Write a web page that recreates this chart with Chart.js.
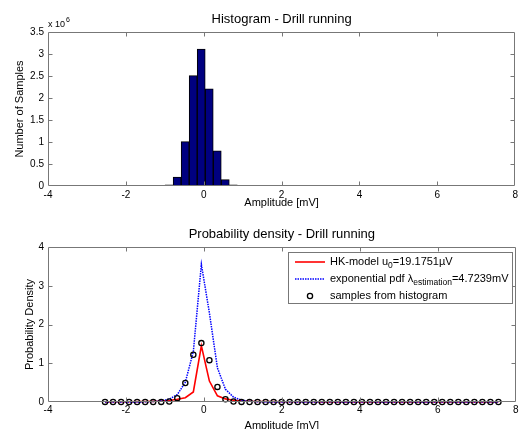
<!DOCTYPE html>
<html>
<head>
<meta charset="utf-8">
<script src="https://cdn.jsdelivr.net/npm/chart.js@4.4.1/dist/chart.umd.min.js"></script>
<style>
  html, body { margin: 0; padding: 0; background: #fff; overflow: hidden; }
  #wrap { position: relative; width: 521px; height: 429px; overflow: hidden; }
  canvas { position: absolute; left: 0; }
  #hist { top: 0; }
  #pdf { top: 215px; }
</style>
</head>
<body>
<div id="wrap">
  <canvas id="hist" width="521" height="215"></canvas>
  <canvas id="pdf" width="521" height="224"></canvas>
</div>
<script>
// bin centres of the 50-bin histogram [mV]
const binCenters = [
  -2.537, -2.331, -2.125, -1.919, -1.713, -1.507, -1.301, -1.095, -0.889, -0.683,
  -0.477, -0.271, -0.065, 0.141, 0.347, 0.553, 0.759, 0.965, 1.171, 1.377,
  1.583, 1.789, 1.995, 2.201, 2.407, 2.613, 2.819, 3.025, 3.231, 3.437,
  3.643, 3.849, 4.055, 4.261, 4.467, 4.673, 4.879, 5.085, 5.291, 5.497,
  5.703, 5.909, 6.115, 6.321, 6.527, 6.733, 6.939, 7.145, 7.351, 7.557
];

// number of samples per bin
const histCounts = [
  9000, 0, 0, 0, 0, 0, 0, 6000, 25000, 205000,
  1010000, 2510000, 3110000, 2210000, 800000, 145000, 25000, 6000, 0, 0,
  0, 0, 0, 0, 0, 0, 0, 0, 0, 0,
  0, 0, 0, 0, 0, 0, 0, 0, 0, 0,
  0, 0, 0, 0, 0, 0, 0, 0, 0, 0
];

// probability density
const sampleDensity = [
  0.002, 0, 0, 0, 0, 0, 0, 0.002, 0.012, 0.1,
  0.49, 1.22, 1.52, 1.08, 0.39, 0.07, 0.012, 0.002, 0, 0,
  0, 0, 0, 0, 0, 0, 0, 0, 0, 0,
  0, 0, 0, 0, 0, 0, 0, 0, 0, 0,
  0, 0, 0, 0, 0, 0, 0, 0, 0, 0
];

// HK-model curve
const hkModel = [
  0.004, 0.005, 0.006, 0.007, 0.009, 0.012, 0.017, 0.025, 0.04, 0.07,
  0.11, 0.26, 1.45, 0.54, 0.16, 0.08, 0.045, 0.028, 0.019, 0.014,
  0.011, 0.009, 0.008, 0.007, 0.006, 0.005, 0.005, 0.004, 0.004, 0.004,
  0.003, 0.003, 0.003, 0.003, 0.003, 0.003, 0.003, 0.003, 0.003, 0.003,
  0.002, 0.002, 0.002, 0.002, 0.002, 0.002, 0.002, 0.002, 0.002, 0.002
];

// exponential pdf curve
const expPdf = [
  0, 0, 0, 0.0001, 0.0005, 0.004, 0.011, 0.028, 0.073, 0.19,
  0.51, 1.3, 3.55, 2.3, 0.88, 0.33, 0.125, 0.047, 0.018, 0.007,
  0.003, 0.001, 0, 0, 0, 0, 0, 0, 0, 0,
  0, 0, 0, 0, 0, 0, 0, 0, 0, 0,
  0, 0, 0, 0, 0, 0, 0, 0, 0, 0
];

const FONT = "'Liberation Sans', Arial, Helvetica, sans-serif";
const AXIS_GRAY = '#777';

Chart.defaults.font.family = FONT;
Chart.defaults.color = '#000';
Chart.defaults.animation = false;

const toPoints = (ys) => binCenters.map((x, i) => ({ x, y: ys[i] }));

// matlab-like box: frame on 4 sides, ticks pointing inward, title over the axes
const matlabBox = {
  id: 'matlabBox',
  afterDraw(chart, args, opts) {
    const { ctx, chartArea: a } = chart;
    const xs = chart.scales.x, ys = chart.scales.y;
    const x0 = Math.round(a.left) + 0.5, x1 = Math.round(a.right) - 0.5;
    const y0 = Math.round(a.top) + 0.5, y1 = Math.round(a.bottom) - 0.5;
    const tl = 4;
    ctx.save();
    ctx.strokeStyle = AXIS_GRAY;
    ctx.lineWidth = 1;
    ctx.beginPath();
    xs.ticks.forEach((t) => {
      const px = Math.round(xs.getPixelForValue(t.value)) + 0.5;
      if (px <= x0 + 1 || px >= x1 - 1) return;
      ctx.moveTo(px, y1); ctx.lineTo(px, y1 - tl);
      ctx.moveTo(px, y0); ctx.lineTo(px, y0 + tl);
    });
    ys.ticks.forEach((t) => {
      const py = Math.round(ys.getPixelForValue(t.value)) + 0.5;
      if (py <= y0 + 1 || py >= y1 - 1) return;
      ctx.moveTo(x0, py); ctx.lineTo(x0 + tl, py);
      ctx.moveTo(x1, py); ctx.lineTo(x1 - tl, py);
    });
    ctx.rect(x0, y0, x1 - x0, y1 - y0);
    ctx.stroke();

    ctx.fillStyle = '#000';
    ctx.textAlign = 'center';
    ctx.textBaseline = 'alphabetic';
    ctx.font = '13px ' + FONT;
    ctx.fillText(opts.title, (a.left + a.right) / 2, 23);

    if (opts.exponent) {
      ctx.textAlign = 'left';
      ctx.font = '9px ' + FONT;
      ctx.fillText('x 10', a.left, 27);
      const w = ctx.measureText('x 10').width;
      ctx.font = '7px ' + FONT;
      ctx.fillText(opts.exponent, a.left + w + 1, 22);
    }

    if (opts.legend) drawLegend(ctx, opts.legend);
    ctx.restore();
  }
};

function drawLegend(ctx, lg) {
  ctx.fillStyle = '#fff';
  ctx.fillRect(lg.left, lg.top, lg.right - lg.left, lg.bottom - lg.top);
  ctx.strokeStyle = AXIS_GRAY;
  ctx.lineWidth = 1;
  ctx.setLineDash([]);
  ctx.strokeRect(lg.left + 0.5, lg.top + 0.5, lg.right - lg.left - 1, lg.bottom - lg.top - 1);

  lg.items.forEach((it) => {
    const y = it.y;
    ctx.save();
    if (it.marker) {
      ctx.strokeStyle = '#000';
      ctx.lineWidth = 1.3;
      ctx.beginPath();
      ctx.arc(lg.left + 22, y, 2.6, 0, Math.PI * 2);
      ctx.stroke();
    } else {
      ctx.strokeStyle = it.color;
      ctx.lineWidth = it.width;
      ctx.setLineDash(it.dash || []);
      ctx.beginPath();
      ctx.moveTo(lg.left + 7, y);
      ctx.lineTo(lg.left + 37, y);
      ctx.stroke();
    }
    ctx.restore();

    let x = lg.left + 42;
    ctx.fillStyle = '#000';
    ctx.textAlign = 'left';
    ctx.textBaseline = 'middle';
    it.parts.forEach((p) => {
      ctx.font = (p.sub ? '8.5px ' : '11px ') + FONT;
      ctx.fillText(p.text, x, p.sub ? y + 4 : y);
      x += ctx.measureText(p.text).width + (p.gap || 0);
    });
  });
}

new Chart(document.getElementById('hist'), {
  type: 'bar',
  data: {
    datasets: [{
      data: toPoints(histCounts),
      backgroundColor: '#000080',
      borderColor: '#000',
      borderWidth: 1,
      barPercentage: 1,
      categoryPercentage: 1
    }]
  },
  options: {
    responsive: false,
    animation: false,
    layout: { padding: { left: 0, right: 5, top: 32, bottom: 0 } },
    plugins: {
      legend: { display: false },
      tooltip: { enabled: false },
      matlabBox: { title: 'Histogram - Drill running', exponent: '6' }
    },
    scales: {
      x: {
        type: 'linear', min: -4, max: 8, offset: false,
        grid: { display: false, drawTicks: false, offset: false },
        border: { display: false },
        ticks: { stepSize: 2, padding: 3, maxRotation: 0, font: { size: 10 }, callback: (v) => String(v) },
        title: { display: true, text: 'Amplitude [mV]', font: { size: 11 }, padding: { top: 0, bottom: 5 } },
        afterFit(s) { s.height = 29; }
      },
      y: {
        min: 0, max: 3500000,
        grid: { display: false, drawTicks: false },
        border: { display: false },
        ticks: { stepSize: 500000, padding: 4, font: { size: 10 }, callback: (v) => String(v / 1e6) },
        title: { display: true, text: 'Number of Samples', font: { size: 11 }, padding: { top: 13, bottom: 0 } },
        afterFit(s) { s.width = 48; }
      }
    }
  },
  plugins: [matlabBox]
});

new Chart(document.getElementById('pdf'), {
  type: 'line',
  data: {
    datasets: [
      {
        label: 'samples from histogram',
        data: toPoints(sampleDensity),
        showLine: false,
        pointRadius: 2.6,
        pointBorderWidth: 1.3,
        pointBorderColor: '#000',
        pointBackgroundColor: 'rgba(0,0,0,0)',
        borderColor: '#000',
        clip: false,
        order: 1
      },
      {
        label: 'exponential pdf',
        data: toPoints(expPdf),
        borderColor: '#0000ff',
        borderWidth: 1.5,
        borderDash: [1.5, 1],
        pointRadius: 0,
        tension: 0,
        clip: false,
        order: 2
      },
      {
        label: 'HK-model',
        data: toPoints(hkModel),
        borderColor: '#ff0000',
        borderWidth: 1.6,
        pointRadius: 0,
        tension: 0,
        clip: false,
        order: 3
      }
    ]
  },
  options: {
    responsive: false,
    animation: false,
    layout: { padding: { left: 0, right: 5, top: 32, bottom: 0 } },
    plugins: {
      legend: { display: false },
      tooltip: { enabled: false },
      matlabBox: {
        title: 'Probability density - Drill running',
        legend: {
          left: 288, right: 513, top: 37, bottom: 89,
          items: [
            { color: '#ff0000', width: 1.6, y: 47,
              parts: [{ text: 'HK-model u' }, { text: '0', sub: true }, { text: '=19.1751\u00b5V' }] },
            { color: '#0000ff', width: 1.5, dash: [1.5, 1], y: 64,
              parts: [{ text: 'exponential pdf \u03bb' }, { text: 'estimation', sub: true }, { text: '=4.7239mV' }] },
            { marker: true, y: 81,
              parts: [{ text: 'samples from histogram' }] }
          ]
        }
      }
    },
    scales: {
      x: {
        type: 'linear', min: -4, max: 8,
        grid: { display: false, drawTicks: false },
        border: { display: false },
        ticks: { stepSize: 2, padding: 2, maxRotation: 0, font: { size: 10 }, callback: (v) => String(v) },
        title: { display: true, text: 'Amplitude [mV]', font: { size: 11 }, padding: { top: 0, bottom: 6.7 } },
        afterFit(s) { s.height = 37; }
      },
      y: {
        min: 0, max: 4,
        grid: { display: false, drawTicks: false },
        border: { display: false },
        ticks: { stepSize: 1, padding: 4, font: { size: 10 }, callback: (v) => String(v) },
        title: { display: true, text: 'Probability Density', font: { size: 11 }, padding: { top: 23, bottom: 0 } },
        afterFit(s) { s.width = 48; }
      }
    }
  },
  plugins: [matlabBox]
});
</script>
</body>
</html>
